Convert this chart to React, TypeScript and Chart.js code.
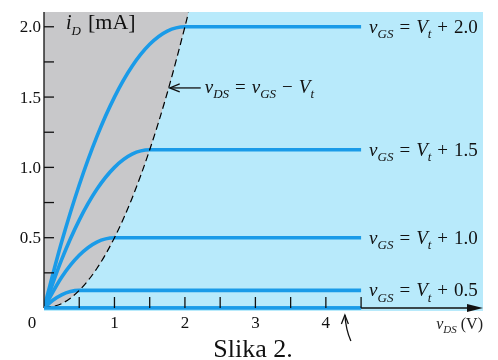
import React, { useEffect, useRef } from "react";
import { Chart, registerables } from "chart.js";

Chart.register(...registerables);

// Overdrive voltages (V_GS - V_t) for each curve
const overdrives = [0.5, 1.0, 1.5, 2.0];
const curveLabels = ["0.5", "1.0", "1.5", "2.0"];

// Output characteristic curves i_D (mA) vs v_DS (V)
const curve05_v = [0, 0.125, 0.25, 0.375, 0.5, 4.5];
const curve05_i = [0, 0.055, 0.094, 0.117, 0.125, 0.125];
const curve10_v = [0, 0.25, 0.5, 0.75, 1.0, 4.5];
const curve10_i = [0, 0.219, 0.375, 0.469, 0.5, 0.5];
const curve15_v = [0, 0.25, 0.5, 0.75, 1.0, 1.25, 1.5, 4.5];
const curve15_i = [0, 0.344, 0.625, 0.844, 1.0, 1.094, 1.125, 1.125];
const curve20_v = [0, 0.25, 0.5, 0.75, 1.0, 1.25, 1.5, 1.75, 2.0, 4.5];
const curve20_i = [0, 0.469, 0.875, 1.219, 1.5, 1.719, 1.875, 1.969, 2.0, 2.0];
const cutoff_v = [0, 4.5];
const cutoff_i = [0, 0];

// Boundary v_DS = v_GS - V_t
const boundary_v = [0, 0.25, 0.5, 0.75, 1.0, 1.25, 1.5, 1.75, 2.0, 2.05];
const boundary_i = [0, 0.031, 0.125, 0.281, 0.5, 0.781, 1.125, 1.531, 2.0, 2.101];

// Axes
const xMax = 6.23;
const yMax = 2.105;
const xTickValues = [0.5, 1, 1.5, 2, 2.5, 3, 3.5, 4, 4.5];
const xLabelValues = [0, 1, 2, 3, 4];
const xLabels = ["0", "1", "2", "3", "4"];
const yTickValues = [0.25, 0.5, 0.75, 1.0, 1.25, 1.5, 1.75, 2.0];
const yLabelValues = [0.5, 1.0, 1.5, 2.0];
const yLabels = ["0.5", "1.0", "1.5", "2.0"];

// Annotation point on the boundary
const annotV = 1.77;
const annotI = 1.565;

const BLUE = "#1a9be8";
const BG = "#b8eafb";
const GRAY = "#c8c8ca";
const SERIF = "'Liberation Serif', 'Times New Roman', serif";

type Seg = { t: string; it?: boolean; sub?: boolean; gap?: number };

function drawRich(ctx: CanvasRenderingContext2D, segs: Seg[], x: number, y: number, size: number, align: "left" | "right" = "left") {
  const subSize = Math.round(size * 0.66);
  const fontFor = (s: Seg) => `${s.it ? "italic " : ""}${s.sub ? subSize : size}px ${SERIF}`;
  let total = 0;
  for (const s of segs) {
    ctx.font = fontFor(s);
    total += ctx.measureText(s.t).width + (s.gap || 0) * 2;
  }
  let cx = align === "right" ? x - total : x;
  ctx.textAlign = "left";
  ctx.textBaseline = "alphabetic";
  for (const s of segs) {
    ctx.font = fontFor(s);
    cx += s.gap || 0;
    ctx.fillText(s.t, cx, s.sub ? y + size * 0.28 : y);
    cx += ctx.measureText(s.t).width + (s.gap || 0);
  }
}

const pts = (vs: number[], is: number[]) => vs.map((v, k) => ({ x: v, y: is[k] }));

export default function App() {
  const ref = useRef<HTMLCanvasElement>(null);
  useEffect(() => {
    if (!ref.current) return;
    const bgPlugin = {
      id: "bg",
      beforeDatasetsDraw(chart: any) {
        const { ctx, chartArea } = chart;
        ctx.save();
        ctx.fillStyle = BG;
        ctx.fillRect(chartArea.left, chartArea.top, chartArea.right - chartArea.left, chartArea.bottom - chartArea.top + 3);
        ctx.restore();
      },
    };
    const decoPlugin = {
      id: "deco",
      afterDraw(chart: any) {
        const { ctx } = chart;
        const xs = chart.scales.x;
        const ys = chart.scales.y;
        const x0 = xs.getPixelForValue(0);
        const y0 = ys.getPixelForValue(0);
        ctx.save();
        ctx.strokeStyle = "#111";
        ctx.fillStyle = "#111";
        ctx.lineWidth = 1.3;
        // y axis
        ctx.beginPath();
        ctx.moveTo(x0, ys.top);
        ctx.lineTo(x0, y0);
        ctx.stroke();
        for (const v of yTickValues) {
          const py = ys.getPixelForValue(v);
          ctx.beginPath();
          ctx.moveTo(x0, py);
          ctx.lineTo(x0 + 10, py);
          ctx.stroke();
        }
        ctx.font = `17px ${SERIF}`;
        ctx.textAlign = "right";
        ctx.textBaseline = "middle";
        yLabelValues.forEach((v, k) => {
          ctx.fillText(yLabels[k], x0 - 3, ys.getPixelForValue(v) + 1);
        });
        // x axis (black beyond the blue cutoff line)
        const xEnd = xs.right;
        ctx.beginPath();
        ctx.moveTo(x0, y0);
        ctx.lineTo(xEnd - 8, y0);
        ctx.stroke();
        ctx.beginPath();
        ctx.moveTo(xEnd, y0);
        ctx.lineTo(xEnd - 16, y0 - 4);
        ctx.lineTo(xEnd - 16, y0 + 4);
        ctx.closePath();
        ctx.fill();
        // redraw cutoff blue line on top of axis
        ctx.strokeStyle = BLUE;
        ctx.lineWidth = 3.6;
        ctx.beginPath();
        ctx.moveTo(xs.getPixelForValue(cutoff_v[0]), y0);
        ctx.lineTo(xs.getPixelForValue(cutoff_v[1]), y0);
        ctx.stroke();
        ctx.strokeStyle = "#111";
        ctx.lineWidth = 1.3;
        for (const v of xTickValues) {
          const px = xs.getPixelForValue(v);
          ctx.beginPath();
          ctx.moveTo(px, y0);
          ctx.lineTo(px, y0 - 11);
          ctx.stroke();
        }
        ctx.textAlign = "center";
        ctx.textBaseline = "middle";
        ctx.font = `17px ${SERIF}`;
        xLabelValues.forEach((v, k) => {
          const px = xs.getPixelForValue(v) + (v === 0 ? -12 : 0);
          ctx.fillText(xLabels[k], px, y0 + 16);
        });
        // curve labels
        ctx.fillStyle = "#111";
        overdrives.forEach((_, k) => {
          const py = ys.getPixelForValue([curve05_i, curve10_i, curve15_i, curve20_i][k].slice(-1)[0]);
          const px = xs.getPixelForValue(4.5) + 8;
          drawRich(ctx, [
            { t: "v", it: true },
            { t: "GS", it: true, sub: true },
            { t: "=", gap: 6 },
            { t: "V", it: true },
            { t: "t", it: true, sub: true },
            { t: "+", gap: 6 },
            { t: curveLabels[k] },
          ], px, py + 6, 19);
        });
        // y-axis title
        drawRich(ctx, [{ t: "i", it: true }, { t: "D", it: true, sub: true }], x0 + 22, ys.top + 17, 20);
        ctx.font = `22px ${SERIF}`;
        ctx.textAlign = "left";
        ctx.textBaseline = "alphabetic";
        ctx.fillText("[mA]", x0 + 44, ys.top + 17);
        // boundary annotation arrow
        const ax = xs.getPixelForValue(annotV) + 1;
        const ay = ys.getPixelForValue(annotI);
        ctx.lineWidth = 1.3;
        ctx.beginPath();
        ctx.moveTo(ax, ay);
        ctx.lineTo(ax + 31, ay);
        ctx.stroke();
        ctx.beginPath();
        ctx.moveTo(ax + 10, ay - 4);
        ctx.lineTo(ax, ay);
        ctx.lineTo(ax + 10, ay + 4);
        ctx.stroke();
        drawRich(ctx, [
          { t: "v", it: true },
          { t: "DS", it: true, sub: true },
          { t: "=", gap: 6 },
          { t: "v", it: true },
          { t: "GS", it: true, sub: true },
          { t: "−", gap: 6 },
          { t: "V", it: true },
          { t: "t", it: true, sub: true },
        ], ax + 35, ay + 5, 19);
        // curved arrow under the x axis
        const cx = xs.getPixelForValue(4.27);
        ctx.beginPath();
        ctx.moveTo(cx + 6, y0 + 33);
        ctx.quadraticCurveTo(cx + 1, y0 + 22, cx, y0 + 7);
        ctx.stroke();
        ctx.beginPath();
        ctx.moveTo(cx - 3.5, y0 + 16);
        ctx.lineTo(cx, y0 + 7);
        ctx.lineTo(cx + 3.5, y0 + 16);
        ctx.stroke();
        // x-axis title
        ctx.fillStyle = "#222";
        drawRich(ctx, [
          { t: "v", it: true },
          { t: "DS", it: true, sub: true },
          { t: " (V)" },
        ], xs.right, y0 + 21, 16, "right");
        // caption
        ctx.fillStyle = "#111";
        ctx.font = `26px ${SERIF}`;
        ctx.textAlign = "center";
        ctx.textBaseline = "alphabetic";
        ctx.fillText("Slika 2.", 253, 357);
        ctx.restore();
      },
    };

    const lineDs = (vs: number[], is: number[]) => ({
      data: pts(vs, is),
      borderColor: BLUE,
      borderWidth: 3.6,
      pointRadius: 0,
      fill: false,
      cubicInterpolationMode: "monotone" as const,
      order: 1,
    });

    const chart = new Chart(ref.current, {
      type: "line",
      data: {
        datasets: [
          {
            data: pts(boundary_v, boundary_i),
            borderColor: "#000",
            borderWidth: 1.2,
            borderDash: [7, 4],
            pointRadius: 0,
            fill: false,
            cubicInterpolationMode: "monotone",
            order: 0,
          },
          lineDs(curve05_v, curve05_i),
          lineDs(curve10_v, curve10_i),
          lineDs(curve15_v, curve15_i),
          lineDs(curve20_v, curve20_i),
          lineDs(cutoff_v, cutoff_i),
          {
            data: pts(boundary_v, boundary_i),
            borderWidth: 0,
            borderColor: "rgba(0,0,0,0)",
            backgroundColor: GRAY,
            pointRadius: 0,
            fill: "end",
            cubicInterpolationMode: "monotone",
            order: 10,
          },
        ] as any,
      },
      options: {
        animation: false,
        responsive: false,
        maintainAspectRatio: false,
        layout: { padding: { left: 44, right: 15, top: 12, bottom: 52 } },
        plugins: { legend: { display: false }, tooltip: { enabled: false }, filler: { propagate: false } },
        scales: {
          x: { type: "linear", min: 0, max: xMax, display: false },
          y: { type: "linear", min: 0, max: yMax, display: false },
        },
      },
      plugins: [bgPlugin, decoPlugin],
    });
    return () => chart.destroy();
  }, []);

  return (
    <div style={{ position: "fixed", left: 0, top: 0, width: 498, height: 360, background: "#fff" }}>
      <canvas ref={ref} width={498} height={360} style={{ width: 498, height: 360, display: "block" }} />
    </div>
  );
}
